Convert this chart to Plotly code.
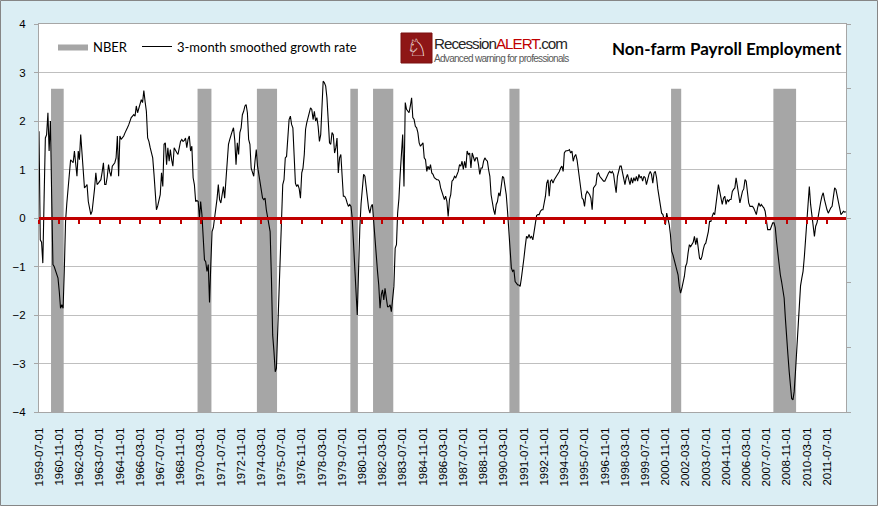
import pandas as pd
import plotly.graph_objects as go

# ---------------- data (monthly, 3-month smoothed growth rate, from 1959-07) ----------------
start_month = "1959-07-01"

growth_1950s = [1.79, -0.45, -0.5, -0.93, 0.4, 1.65]  # 1959 Jul-Dec

growth_1960s = [
    1.72, 2.17, 1.38, 2.0, 0.48, -0.96, -1.0, -1.07, -1.15, -1.24, -1.52, -1.86,   # 1960
    -1.79, -1.86, -1.1, -0.07, 0.3, 0.62, 1.03, 1.2, 1.17, 1.14, 1.38, 1.14,      # 1961
    0.86, 1.38, 1.2, 1.72, 1.38, 0.86, 0.62, 0.65, 0.69, 0.34, 0.2, 0.07,         # 1962
    0.14, 0.34, 0.6, 0.93, 0.69, 0.72, 0.76, 0.79, 0.95, 1.14, 0.69, 0.69,        # 1963
    0.85, 1.1, 0.95, 0.86, 1.07, 1.1, 1.14, 1.24, 1.69, 0.86, 1.69, 1.62,         # 1964
    1.65, 1.69, 1.75, 1.83, 1.86, 1.92, 2.0, 2.07, 2.1, 2.13, 2.1, 2.31,          # 1965
    2.17, 2.28, 2.38, 2.44, 2.38, 2.63, 2.4, 2.2, 1.65, 1.58, 1.45, 1.31,         # 1966
    1.24, 0.9, 0.5, 0.17, 0.25, 0.34, 0.48, 0.93, 0.65, 1.52, 1.55, 1.1,          # 1967
    1.45, 1.17, 1.41, 1.2, 1.07, 1.45, 1.38, 1.35, 1.31, 1.45, 1.58, 1.62,        # 1968
    1.58, 1.6, 1.65, 1.45, 1.62, 1.69, 1.38, 1.48, 0.83, 0.69, 0.34, 0.36,        # 1969
]

growth_1970s = [
    0.34, 0.0, 0.34, 0.07, -0.55, -0.86, -0.9, -1.1, -0.96, -1.74, -0.96, -0.28,  # 1970
    -0.2, 0.0, 0.14, 0.4, 0.69, 0.38, 0.31, 0.45, 0.65, 0.41, 0.76, 1.3,          # 1971
    1.52, 1.62, 1.72, 1.79, 1.86, 1.6, 1.1, 1.55, 1.31, 1.76, 1.86, 2.13,         # 1972
    2.2, 2.31, 2.34, 2.17, 1.62, 1.52, 1.03, 0.93, 0.86, 1.17, 1.41, 1.07,        # 1973
    0.9, 0.79, 0.6, 0.41, 0.38, 0.41, 0.17, 0.0, -0.14, -0.28, -1.24, -2.41,      # 1974
    -2.75, -3.17, -3.1, -2.4, -1.45, -0.7, -0.28, 0.69, 0.79, 1.24, 1.27, 1.72,   # 1975
    2.03, 2.1, 1.93, 1.86, 1.1, 0.72, 0.65, 0.69, 0.6, 0.41, 0.93, 1.03,          # 1976
    1.31, 1.83, 1.96, 2.1, 2.17, 2.27, 2.24, 2.03, 2.2, 2.0, 2.07, 1.89,          # 1977
    1.58, 1.72, 2.41, 2.82, 2.79, 2.72, 2.48, 2.0, 1.55, 1.52, 1.76, 1.72,        # 1978
    1.34, 1.45, 1.65, 0.93, 1.24, 1.31, 0.9, 0.45, 0.45, 0.4, 0.31, 0.24,         # 1979
]

growth_1980s = [
    0.28, 0.24, 0.0, -0.6, -1.17, -1.52, -2.0, -0.96, -0.2, 0.3, 0.55, 0.9,       # 1980
    0.86, 0.62, 0.34, 0.2, 0.1, 0.24, 0.28, -0.07, -0.41, -0.9, -1.1, -1.38,      # 1981
    -1.86, -1.58, -1.48, -1.69, -1.45, -1.65, -1.83, -1.83, -1.79, -1.93, -1.65, -1.41,  # 1982
    -0.62, -0.55, 0.1, 0.4, 0.9, 1.3, 1.72, 0.65, 2.38, 2.24, 2.2, 2.17,          # 1983
    2.31, 2.48, 2.07, 2.03, 1.89, 1.86, 1.76, 1.55, 1.48, 1.52, 1.55, 1.24,       # 1984
    1.2, 0.96, 1.07, 1.0, 1.1, 0.93, 0.9, 0.83, 0.81, 0.79, 0.79, 0.76,           # 1985
    0.62, 0.52, 0.45, 0.38, 0.45, 0.34, 0.03, 0.38, 0.48, 0.76, 0.79, 0.86,       # 1986
    0.83, 0.9, 0.96, 1.1, 1.07, 1.17, 1.0, 1.17, 1.03, 1.38, 1.31, 1.34,          # 1987
    1.03, 1.34, 1.24, 1.17, 1.24, 1.24, 1.1, 0.9, 1.03, 1.03, 1.17, 1.24,         # 1988
    1.2, 1.17, 1.0, 0.86, 0.48, 0.28, 0.17, 0.07, 0.28, 0.34, 0.52, 0.45,         # 1989
]

growth_1990s = [
    0.72, 0.86, 0.83, 0.69, 0.48, 0.14, -0.28, -0.69, -1.03, -1.1, -1.07, -1.31,  # 1990
    -1.34, -1.38, -1.38, -1.41, -1.24, -0.96, -0.83, -0.59, -0.38, -0.41, -0.34, -0.41,  # 1991
    -0.38, -0.45, -0.3, -0.1, 0.05, 0.07, 0.07, 0.14, 0.17, 0.17, 0.28, 0.45,     # 1992
    0.72, 0.79, 0.45, 0.76, 0.79, 0.72, 0.79, 0.83, 0.86, 0.9, 0.96, 1.03,        # 1993
    1.07, 0.96, 1.34, 1.38, 1.38, 1.39, 1.41, 1.34, 1.38, 1.17, 1.27, 1.31,       # 1994
    1.2, 1.0, 0.83, 0.59, 0.41, 0.38, 0.24, 0.48, 0.55, 0.52, 0.48, 0.41,         # 1995
    0.17, 0.62, 0.65, 0.69, 0.9, 0.93, 0.86, 0.83, 0.79, 0.76, 0.76, 0.83,        # 1996
    0.9, 0.93, 0.96, 0.93, 0.96, 0.9, 0.7, 0.52, 0.86, 1.0, 1.07, 1.07,           # 1997
    0.96, 0.83, 0.69, 0.83, 0.9, 0.79, 0.69, 0.83, 0.72, 0.83, 0.76, 0.86,        # 1998
    0.76, 0.9, 0.83, 0.86, 0.76, 0.86, 0.83, 0.69, 0.83, 0.9, 0.96, 0.9,          # 1999
]

growth_2000s = [
    0.72, 0.93, 0.96, 0.83, 0.6, 0.41, 0.2, 0.1, 0.07, -0.03, -0.14, 0.1,         # 2000
    -0.03, -0.14, -0.34, -0.69, -0.76, -0.86, -0.96, -1.05, -1.17, -1.41, -1.55, -1.45,  # 2001
    -1.34, -1.2, -1.0, -0.93, -0.72, -0.55, -0.59, -0.55, -0.5, -0.38, -0.55, -0.41,     # 2002
    -0.59, -0.83, -0.86, -0.79, -0.65, -0.55, -0.52, -0.4, -0.28, -0.07, -0.07, 0.03,    # 2003
    0.1, 0.07, 0.31, 0.48, 0.69, 0.55, 0.38, 0.28, 0.41, 0.45, 0.28, 0.38,        # 2004
    0.34, 0.38, 0.38, 0.55, 0.59, 0.62, 0.83, 0.69, 0.48, 0.31, 0.45, 0.55,       # 2005
    0.6, 0.79, 0.76, 0.48, 0.31, 0.24, 0.24, 0.24, 0.2, 0.14, 0.07, 0.21,         # 2006
    0.31, 0.24, 0.28, 0.24, 0.21, 0.14, -0.07, -0.24, -0.24, -0.24, -0.17, -0.1,  # 2007
    -0.1, -0.2, -0.48, -0.76, -0.96, -1.17, -1.31, -1.45, -1.65, -2.07, -2.55, -2.82,    # 2008
    -3.17, -3.44, -3.72, -3.75, -3.58, -3.17, -2.75, -2.3, -1.9, -1.4, -1.24, -1.1,      # 2009
]

growth_2010s = [
    -0.8, -0.41, -0.1, 0.15, 0.65, 0.28, 0.1, -0.14, -0.38, -0.17, -0.1, 0.03,    # 2010
    0.24, 0.34, 0.45, 0.52, 0.38, 0.24, 0.17, 0.1, 0.17, 0.21, 0.24, 0.4,         # 2011
    0.62, 0.59, 0.45, 0.28, 0.14, 0.07, 0.1, 0.14, 0.12, 0.13,                    # 2012 Jan-Oct
]

# NBER business-cycle peaks and troughs (shaded: month after peak through trough)
nber_peaks = ["1960-04", "1969-12", "1973-11", "1980-01", "1981-07", "1990-07", "2001-03", "2007-12"]
nber_troughs = ["1961-02", "1970-11", "1975-03", "1980-07", "1982-11", "1991-03", "2001-11", "2009-06"]

x_tick_labels = [
    "1959-07-01", "1960-11-01", "1962-03-01", "1963-07-01", "1964-11-01", "1966-03-01",
    "1967-07-01", "1968-11-01", "1970-03-01", "1971-07-01", "1972-11-01", "1974-03-01",
    "1975-07-01", "1976-11-01", "1978-03-01", "1979-07-01", "1980-11-01", "1982-03-01",
    "1983-07-01", "1984-11-01", "1986-03-01", "1987-07-01", "1988-11-01", "1990-03-01",
    "1991-07-01", "1992-11-01", "1994-03-01", "1995-07-01", "1996-11-01", "1998-03-01",
    "1999-07-01", "2000-11-01", "2002-03-01", "2003-07-01", "2004-11-01", "2006-03-01",
    "2007-07-01", "2008-11-01", "2010-03-01", "2011-07-01",
]

title_text = "Non-farm Payroll Employment"
series_names = ["NBER", "3-month smoothed growth rate"]

# ---------------- build ----------------
growth = growth_1950s + growth_1960s + growth_1970s + growth_1980s + growth_1990s + growth_2000s + growth_2010s
months = pd.date_range(start_month, periods=len(growth), freq="MS")
month_keys = [d.strftime("%Y-%m") for d in months]
nber_flag = [1 if any(p < k <= t for p, t in zip(nber_peaks, nber_troughs)) else 0 for k in month_keys]

W, H = 878, 506
L, R, T, B = 39, 32, 24, 94
PW, PH = W - L - R, H - T - B


def px(x):
    return (x - L) / PW


def py(y):
    return (H - B - y) / PH


GRAY = "#A6A6A6"
RED = "#C00000"
x_range = [months[0].strftime("%Y-%m-%d"), months[-1].strftime("%Y-%m-%d")]

fig = go.Figure()
fig.add_trace(go.Scatter(
    x=months, y=nber_flag, name=series_names[0], mode="lines",
    line=dict(width=0, shape="hvh", color=GRAY), fill="tozeroy", fillcolor=GRAY,
    xaxis="x", yaxis="y", legend="legend", hoverinfo="skip",
))
fig.add_trace(go.Scatter(
    x=months, y=growth, name=series_names[1], mode="lines",
    line=dict(width=1.1, color="black"),
    xaxis="x2", yaxis="y2", legend="legend2",
))

tickfont = dict(family="Liberation Sans, Arial, sans-serif", size=11.5, color="black")
legfont = dict(family="Lato, Carlito, sans-serif", size=13, color="black")

fig.update_layout(
    width=W, height=H,
    margin=dict(l=L, r=R, t=T, b=B, pad=0),
    paper_bgcolor="#DBEEF4", plot_bgcolor="white",
    showlegend=True,
    xaxis=dict(type="date", range=x_range, tickmode="array", tickvals=x_tick_labels,
               ticktext=x_tick_labels, tickangle=-90, ticks="", showline=True, mirror=True,
               linecolor=GRAY, linewidth=1, showgrid=False, zeroline=False,
               tickfont=tickfont, ticklabelstandoff=10),
    xaxis2=dict(type="date", range=x_range, overlaying="x", anchor="free", position=0.5,
                side="bottom", tickmode="array", tickvals=x_tick_labels, showticklabels=False,
                ticks="outside", ticklen=4, tickwidth=2, tickcolor=RED, showline=True,
                linecolor=RED, linewidth=2.5, showgrid=False, zeroline=False),
    yaxis=dict(range=[0, 1.2], dtick=0.2, tick0=0, side="right", showticklabels=False,
               ticks="outside", ticklen=4, tickcolor=GRAY, showline=True, linecolor=GRAY,
               showgrid=False, zeroline=False),
    yaxis2=dict(range=[-4, 4], dtick=1, tick0=0, overlaying="y", side="left", anchor="x",
                ticks="outside", ticklen=4, tickcolor=GRAY, showline=True, linecolor=GRAY,
                showgrid=True, gridcolor="#BFBFBF", gridwidth=1, zeroline=False,
                tickfont=tickfont, ticklabelstandoff=6),
    legend=dict(x=px(53), y=py(31.5), xanchor="left", yanchor="top", orientation="h",
                bgcolor="rgba(0,0,0,0)", font=legfont, itemwidth=30),
    legend2=dict(x=px(137), y=py(31.5), xanchor="left", yanchor="top", orientation="h",
                 bgcolor="rgba(0,0,0,0)", font=legfont, itemwidth=30),
)

# outer chart border
fig.add_shape(type="rect", xref="paper", yref="paper",
              x0=px(0.5), x1=px(877.5), y0=py(505.5), y1=py(0.5),
              line=dict(color="#868686", width=1), fillcolor="rgba(0,0,0,0)", layer="below")

# logo badge
fig.add_shape(type="rect", xref="paper", yref="paper",
              x0=px(401), x1=px(432), y0=py(63), y1=py(33),
              line=dict(color="#7A1010", width=1), fillcolor="#8E1616")
fig.add_annotation(x=px(416.5), y=py(48), xref="paper", yref="paper", text="\u2658",
                   showarrow=False, font=dict(family="DejaVu Sans", size=24, color="white"),
                   xanchor="center", yanchor="middle")
fig.add_annotation(x=px(432), y=py(43.5), xref="paper", yref="paper",
                   text="<span style='letter-spacing:-1px'>Recession<span style='color:#C00000'>ALERT</span>.com</span>",
                   showarrow=False, xanchor="left", yanchor="middle",
                   font=dict(family="Liberation Sans, Arial, sans-serif", size=15.2, color="#262626"))
fig.add_annotation(x=px(432), y=py(58), xref="paper", yref="paper",
                   text="<span style='letter-spacing:-0.7px'>Advanced warning for professionals</span>",
                   showarrow=False, xanchor="left", yanchor="middle",
                   font=dict(family="Liberation Sans, Arial, sans-serif", size=10, color="#595959"))

# title
fig.add_annotation(x=px(844), y=py(48.5), xref="paper", yref="paper", text=title_text,
                   showarrow=False, xanchor="right", yanchor="middle",
                   font=dict(family="Lato, Carlito, sans-serif", size=17, color="black", weight="bold"))

fig.write_html("out.html", config={"displayModeBar": False},
               post_script="document.body.style.margin='0';")
